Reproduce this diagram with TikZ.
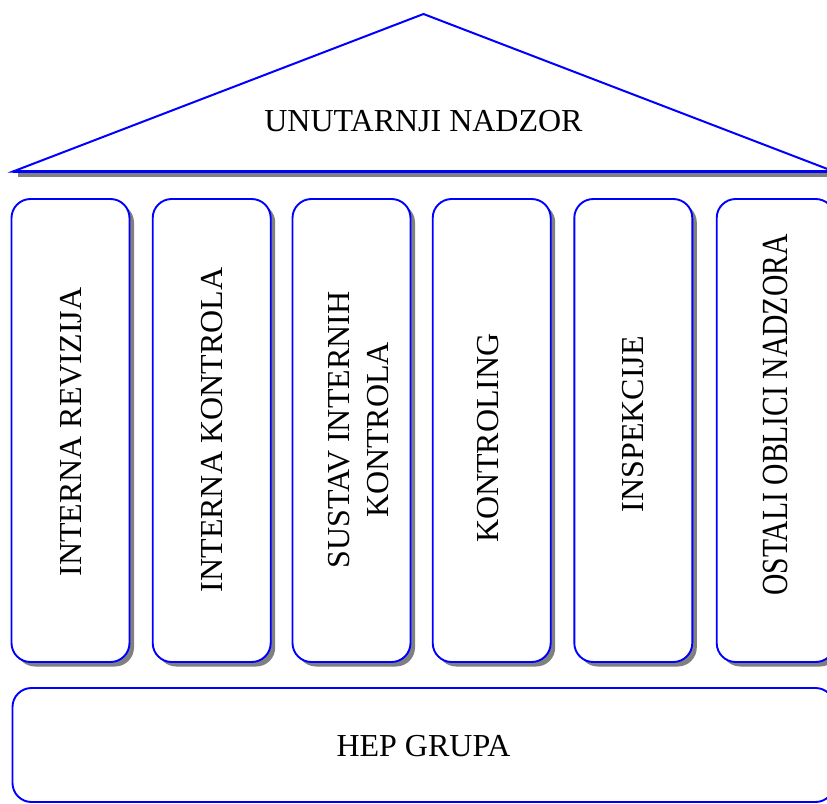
\documentclass[tikz,border=0pt]{standalone}
\usepackage{fontspec}
\setmainfont{Liberation Serif}
\usetikzlibrary{shadows}
\definecolor{lineblue}{RGB}{0,0,255}
\definecolor{shadowgray}{RGB}{128,128,128}
\begin{document}
\begin{tikzpicture}[x=1pt,y=-1pt,
  pillar/.style={draw=lineblue, line width=1.9pt, fill=white, rounded corners=19pt,
    minimum width=118pt, minimum height=463pt, inner sep=0pt,
    drop shadow={shadow xshift=4.5pt, shadow yshift=-4.5pt, fill=shadowgray, opacity=1}},
  basebox/.style={draw=lineblue, line width=1.9pt, fill=white, rounded corners=19pt,
    minimum width=822pt, minimum height=114pt, inner sep=0pt},
  lbl/.style={font=\fontsize{32}{39}\selectfont, inner sep=0pt, align=center},
  vlbl/.style={lbl, rotate=90}
]
\useasboundingbox (0,0) rectangle (827,803);
\clip (0,0) rectangle (827,803);
% roof
\coordinate (rl) at (13,171.5);
\coordinate (rt) at (423.5,14);
\coordinate (rr) at (834,171.5);
\fill[shadowgray] (18,172.5) rectangle (840,177);
\draw[lineblue, line width=2pt, fill=white, line join=miter] (rl) -- (rt) -- (rr) -- cycle;
\draw[lineblue, line width=2.6pt] (rl) -- (rr);
\node[lbl] (roof) at (423.5,121) {UNUTARNJI NADZOR};
% pillars
\node[pillar] (p1) at (70.5,430.5) {};
\node[pillar] (p2) at (211.7,430.5) {};
\node[pillar] (p3) at (351.5,430.5) {};
\node[pillar] (p4) at (491.7,430.5) {};
\node[pillar] (p5) at (633.3,430.5) {};
\node[pillar] (p6) at (775.7,430.5) {};
\node[vlbl] (t1) at (71,432) {INTERNA REVIZIJA};
\node[vlbl] (t2) at (212.5,430) {INTERNA KONTROLA};
\node[vlbl] (t3) at (359,430) {SUSTAV INTERNIH\\KONTROLA};
\node[vlbl] (t4) at (488,438) {KONTROLING};
\node[vlbl] (t5) at (633,424) {INSPEKCIJE};
\node[vlbl] (t6) at (775.7,415) {\scalebox{0.926}[1.15]{OSTALI OBLICI NADZORA}};
% base
\node[basebox] (hep) at (423.5,745) {};
\node[lbl] (hept) at (423.5,746) {HEP GRUPA};
\end{tikzpicture}
\end{document}
